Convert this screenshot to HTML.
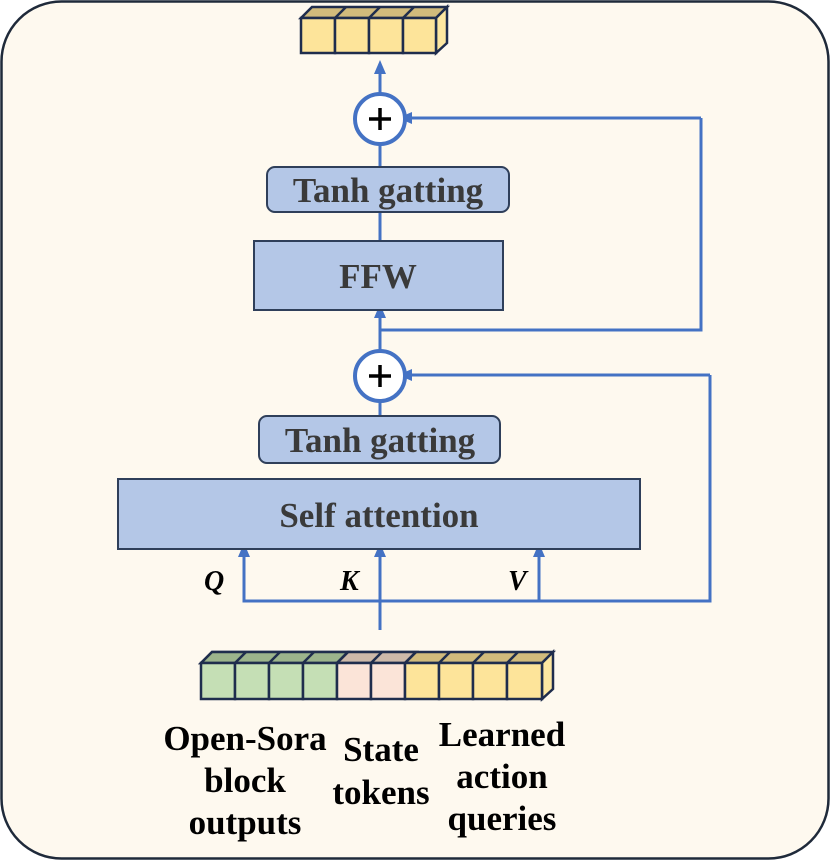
<!DOCTYPE html>
<html><head><meta charset="utf-8"><style>
html,body{margin:0;padding:0;background:#fff;}
svg{display:block;}
.bl{font-family:"Liberation Serif",serif;font-weight:bold;font-size:35px;fill:#3a3a3a;}
.lb{font-family:"Liberation Serif",serif;font-weight:bold;font-size:35px;fill:#000;}
.qkv{font-family:"Liberation Serif",serif;font-weight:bold;font-style:italic;font-size:28px;fill:#000;}
</style></head><body>
<svg width="830" height="860" viewBox="0 0 830 860" xmlns="http://www.w3.org/2000/svg">
<defs>
<marker id="a" markerWidth="14" markerHeight="14" refX="7" refY="7" orient="auto" markerUnits="userSpaceOnUse">
<path d="M0,1 L14,7 L0,13 z" fill="#4472c4"/></marker>
</defs>
<rect x="1.5" y="1.5" width="827" height="857" rx="60" fill="#fef9ef" stroke="#1f2a3a" stroke-width="2.5"/>

<g stroke="#1f2d4d" stroke-width="2.5">
<polygon points="301,18 312,7 447,7 436,18" fill="#d1bb7c"/>
<polygon points="436,18 447,7 447,43 436,53" fill="#fde7a1"/>
<rect x="301" y="18" width="34" height="35" fill="#fde49a"/>
<rect x="335" y="18" width="34" height="35" fill="#fde49a"/>
<rect x="369" y="18" width="34" height="35" fill="#fde49a"/>
<rect x="403" y="18" width="33" height="35" fill="#fde49a"/>
<line x1="335" y1="18" x2="346" y2="7"/><line x1="369" y1="18" x2="380" y2="7"/><line x1="403" y1="18" x2="414" y2="7"/>
</g>

<g stroke="#1f2d4d" stroke-width="2.5">
<polygon points="201,663 212,652 553,652 542,663" fill="#d1bb7c"/>
<polygon points="201,663 212,652 348,652 337,663" fill="#9cb48c"/>
<polygon points="337,663 348,652 416,652 405,663" fill="#cdb9a9"/>
<polygon points="542,663 553,652 553,689 542,699" fill="#fde7a1"/>
<rect x="201" y="663" width="34" height="36" fill="#c5dfb5"/>
<rect x="235" y="663" width="34" height="36" fill="#c5dfb5"/>
<rect x="269" y="663" width="34" height="36" fill="#c5dfb5"/>
<rect x="303" y="663" width="34" height="36" fill="#c5dfb5"/>
<rect x="337" y="663" width="34" height="36" fill="#fbe4d8"/>
<rect x="371" y="663" width="34" height="36" fill="#fbe4d8"/>
<rect x="405" y="663" width="34" height="36" fill="#fde49a"/>
<rect x="439" y="663" width="34" height="36" fill="#fde49a"/>
<rect x="473" y="663" width="34" height="36" fill="#fde49a"/>
<rect x="507" y="663" width="35" height="36" fill="#fde49a"/>
<line x1="235" y1="663" x2="246" y2="652"/><line x1="269" y1="663" x2="280" y2="652"/><line x1="303" y1="663" x2="314" y2="652"/><line x1="337" y1="663" x2="348" y2="652"/><line x1="371" y1="663" x2="382" y2="652"/><line x1="405" y1="663" x2="416" y2="652"/><line x1="439" y1="663" x2="450" y2="652"/><line x1="473" y1="663" x2="484" y2="652"/><line x1="507" y1="663" x2="518" y2="652"/>
</g>

<g stroke="#4472c4" stroke-width="3" fill="none">
<line x1="380" y1="630" x2="380" y2="550" marker-end="url(#a)"/>
<polyline points="244,560 244,601 710,601 710,375"/>
<line x1="244" y1="601" x2="244" y2="550" marker-end="url(#a)"/>
<line x1="539" y1="601" x2="539" y2="550" marker-end="url(#a)"/>
<line x1="710" y1="375" x2="405" y2="375" marker-end="url(#a)"/>
<line x1="380" y1="463" x2="380" y2="402"/>
<line x1="380" y1="350" x2="380" y2="311" marker-end="url(#a)"/>
<polyline points="380,330 701,330 701,118"/>
<line x1="701" y1="118" x2="405" y2="118" marker-end="url(#a)"/>
<line x1="380" y1="241" x2="380" y2="212"/>
<line x1="380" y1="167" x2="380" y2="145"/>
<line x1="380" y1="93" x2="380" y2="67" marker-end="url(#a)"/>
</g>

<g stroke="#4472c4" stroke-width="4" fill="#fff">
<circle cx="380" cy="119" r="25"/>
<circle cx="380" cy="376" r="25"/>
</g>
<g stroke="#000" stroke-width="3.5">
<line x1="369" y1="119" x2="391" y2="119"/><line x1="380" y1="108" x2="380" y2="130"/>
<line x1="369" y1="376" x2="391" y2="376"/><line x1="380" y1="365" x2="380" y2="387"/>
</g>

<g fill="#b4c7e7" stroke="#2f3f5a" stroke-width="2">
<rect x="267" y="167" width="242" height="45" rx="8"/>
<rect x="254" y="241" width="249" height="69"/>
<rect x="259" y="416" width="241" height="47" rx="8"/>
<rect x="118" y="479" width="522" height="70"/>
</g>
<text class="bl" x="388" y="202" text-anchor="middle">Tanh gatting</text>
<text class="bl" x="378" y="288" text-anchor="middle">FFW</text>
<text class="bl" x="380" y="452" text-anchor="middle">Tanh gatting</text>
<text class="bl" x="379" y="527" text-anchor="middle">Self attention</text>

<text class="qkv" x="204" y="590">Q</text>
<text class="qkv" x="340" y="590">K</text>
<text class="qkv" x="508" y="590">V</text>

<text class="lb" text-anchor="middle"><tspan x="245" y="750">Open-Sora</tspan><tspan x="245" y="792">block</tspan><tspan x="245" y="834">outputs</tspan></text>
<text class="lb" text-anchor="middle"><tspan x="381" y="761">State</tspan><tspan x="381" y="804">tokens</tspan></text>
<text class="lb" text-anchor="middle"><tspan x="502" y="746">Learned</tspan><tspan x="502" y="788">action</tspan><tspan x="502" y="830">queries</tspan></text>
</svg>
</body></html>
